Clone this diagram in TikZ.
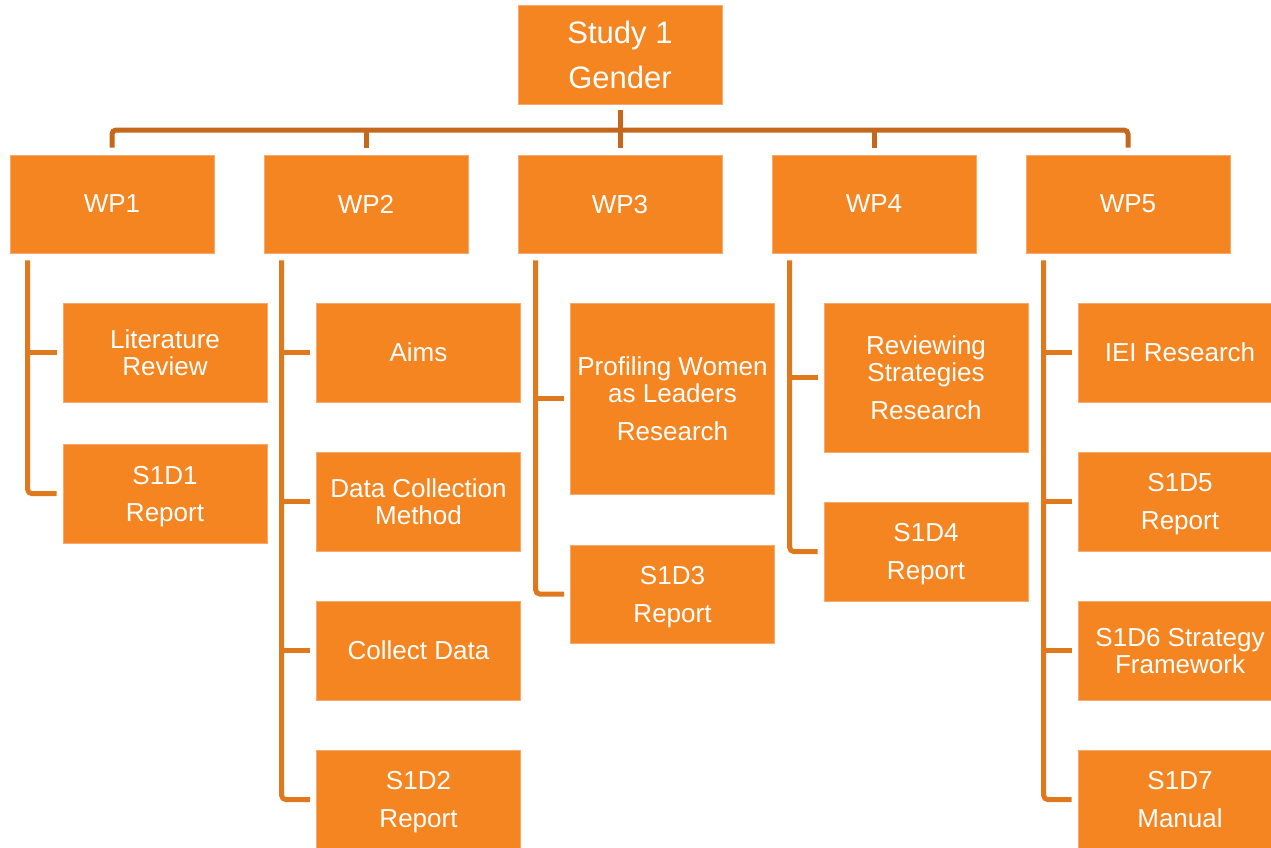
\documentclass[tikz,border=0pt]{standalone}
\usepackage{fontspec}
\setmainfont{Liberation Sans}
\definecolor{boxfill}{RGB}{245,133,32}
\definecolor{boxedge}{RGB}{248,170,110}
\definecolor{busline}{RGB}{197,104,27}
\definecolor{kidline}{RGB}{224,120,30}
\tikzset{
  x=1pt, y=-1pt,
  box/.style={rectangle, fill=boxfill, draw=boxedge, line width=0.6pt, inner sep=0pt,
    minimum width=204pt, minimum height=99pt, text=white, align=center, text depth=0pt,
    font=\fontsize{26}{27}\selectfont},
  topbox/.style={box, font=\fontsize{31}{45}\selectfont},
  wpbox/.style={box, minimum height=98pt},
  busconn/.style={draw=busline, line width=5pt, rounded corners=4pt},
  kidconn/.style={draw=kidline, line width=5pt, rounded corners=4pt},
  tickconn/.style={draw=kidline, line width=4.5pt},
}
\begin{document}
\begin{tikzpicture}
\useasboundingbox (0,0) rectangle (1271,847);
\clip (0,0) rectangle (1271,847);
% top
\node[topbox] (study) at (620,54.5) {Study 1\\Gender};
% work packages
\node[wpbox] (wp1) at (112,204) {WP1};
\node[wpbox] (wp2) at (366,204) {WP2};
\node[wpbox] (wp3) at (620,204) {WP3};
\node[wpbox] (wp4) at (874,204) {WP4};
\node[wpbox] (wp5) at (1128,204) {WP5};
% WP1 children
\node[box] (lit) at (165,352.5) {Literature\\Review};
\node[box] (s1d1) at (165,493.5) {S1D1\\[10pt]Report};
% WP2 children
\node[box] (aims) at (418.5,352.5) {Aims};
\node[box] (dcm) at (418.5,501.5) {Data Collection\\Method};
\node[box] (cd) at (418.5,650.5) {Collect Data};
\node[box] (s1d2) at (418.5,799.5) {S1D2\\[11pt]Report};
% WP3 children
\node[box, minimum height=191pt] (prof) at (672.5,398.5) {Profiling Women\\as Leaders\\[11pt]Research};
\node[box, minimum height=98pt] (s1d3) at (672.5,594) {S1D3\\[11pt]Report};
% WP4 children
\node[box, minimum height=149pt] (rev) at (926,377.5) {Reviewing\\Strategies\\[11pt]Research};
\node[box] (s1d4) at (926,551.5) {S1D4\\[11pt]Report};
% WP5 children
\node[box] (iei) at (1180,352.5) {IEI Research};
\node[box] (s1d5) at (1180,501.5) {S1D5\\[11pt]Report};
\node[box] (s1d6) at (1180,650.5) {S1D6 Strategy\\Framework};
\node[box] (s1d7) at (1180,799.5) {S1D7\\[11pt]Manual};

% bus connectors
\coordinate (bus) at (620,130);
\draw[busconn] ([yshift=7pt]wp1.north) -- (wp1.north |- bus) -- (wp5.north |- bus) -- ([yshift=7pt]wp5.north);
\draw[busconn] ([yshift=-6pt]study.south) -- ([yshift=7pt]wp3.north);
\draw[busconn] (wp2.north |- bus) -- ([yshift=7pt]wp2.north);
\draw[busconn] (wp4.north |- bus) -- ([yshift=7pt]wp4.north);

% child connectors
\coordinate (r1) at ([xshift=18pt,yshift=-7pt]wp1.south west);
\coordinate (r2) at ([xshift=18pt,yshift=-7pt]wp2.south west);
\coordinate (r3) at ([xshift=18pt,yshift=-7pt]wp3.south west);
\coordinate (r4) at ([xshift=18pt,yshift=-7pt]wp4.south west);
\coordinate (r5) at ([xshift=18pt,yshift=-7pt]wp5.south west);

\draw[kidconn] (r1) |- ([xshift=-6pt]s1d1.west);
\draw[tickconn] (r1 |- lit.west) -- ([xshift=-6pt]lit.west);

\draw[kidconn] (r2) |- ([xshift=-6pt]s1d2.west);
\draw[tickconn] (r2 |- aims.west) -- ([xshift=-6pt]aims.west);
\draw[tickconn] (r2 |- dcm.west) -- ([xshift=-6pt]dcm.west);
\draw[tickconn] (r2 |- cd.west) -- ([xshift=-6pt]cd.west);

\draw[kidconn] (r3) |- ([xshift=-6pt]s1d3.west);
\draw[tickconn] (r3 |- prof.west) -- ([xshift=-6pt]prof.west);

\draw[kidconn] (r4) |- ([xshift=-6pt]s1d4.west);
\draw[tickconn] (r4 |- rev.west) -- ([xshift=-6pt]rev.west);

\draw[kidconn] (r5) |- ([xshift=-6pt]s1d7.west);
\draw[tickconn] (r5 |- iei.west) -- ([xshift=-6pt]iei.west);
\draw[tickconn] (r5 |- s1d5.west) -- ([xshift=-6pt]s1d5.west);
\draw[tickconn] (r5 |- s1d6.west) -- ([xshift=-6pt]s1d6.west);
\end{tikzpicture}
\end{document}
